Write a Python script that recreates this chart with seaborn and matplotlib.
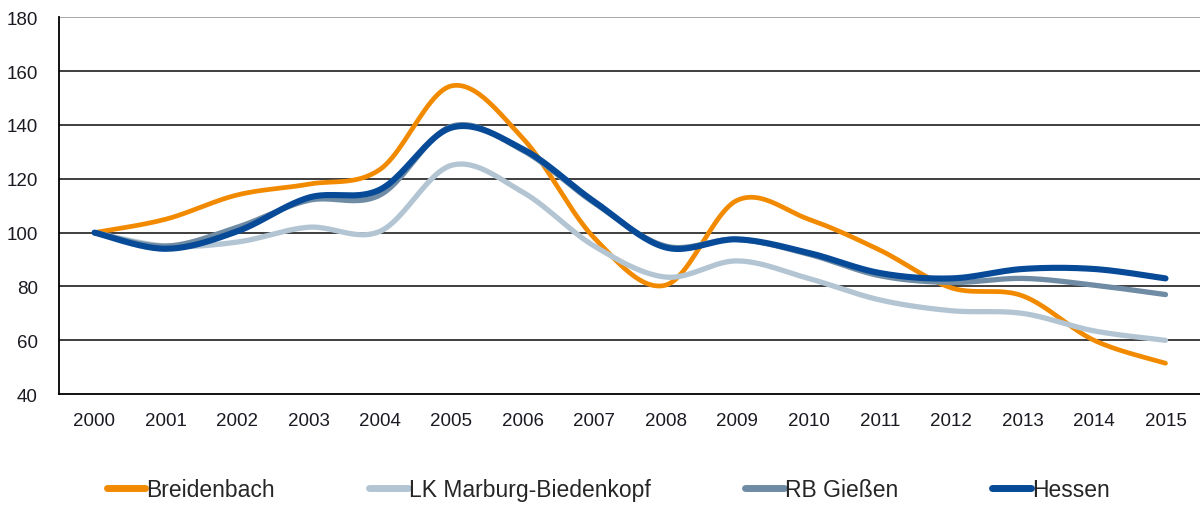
import numpy as np
import pandas as pd
import seaborn as sns
import matplotlib.pyplot as plt
from matplotlib.ticker import FixedLocator

# values (index, 2000 = 100)
years = [str(y) for y in range(2000, 2016)]
breidenbach = [100, 105, 114, 118, 123.5, 154.5, 135, 98, 80.5, 112, 105, 93.5, 79.5, 76.5, 60, 51.5]
lk_marburg = [100, 95, 96.5, 102, 100.5, 125, 115, 95, 83.5, 89.5, 83, 75, 71, 70, 63.5, 60]
rb_giessen = [100, 95, 102, 112, 114, 139.5, 130.5, 111, 95, 97.5, 92, 84, 81.5, 83, 80.5, 77]
hessen = [100, 94, 100.5, 113, 116, 139, 131, 111.5, 94.5, 97.5, 92.5, 85, 83, 86.5, 86.5, 83]

series = {
    'Breidenbach': breidenbach,
    'LK Marburg-Biedenkopf': lk_marburg,
    'RB Gießen': rb_giessen,
    'Hessen': hessen,
}
colors = {
    'Breidenbach': '#f28a00',
    'LK Marburg-Biedenkopf': '#b3c5d3',
    'RB Gießen': '#6f8ca4',
    'Hessen': '#074a97',
}
widths = {
    'Breidenbach': 3.4,
    'LK Marburg-Biedenkopf': 3.8,
    'RB Gießen': 3.8,
    'Hessen': 4.4,
}


def smooth(vals, n=24):
    # Excel-style smoothed line (Catmull-Rom as cubic Bezier) through the points
    x = np.arange(len(vals), dtype=float)
    y = np.asarray(vals, dtype=float)
    xs, ys = [], []
    for i in range(len(y) - 1):
        i0, i3 = max(i - 1, 0), min(i + 2, len(y) - 1)
        p0, p1, p2, p3 = [np.array([x[k], y[k]]) for k in (i0, i, i + 1, i3)]
        c1 = p1 + (p2 - p0) / 6
        c2 = p2 - (p3 - p1) / 6
        t = np.linspace(0, 1, n, endpoint=(i == len(y) - 2))[:, None]
        pts = (1 - t) ** 3 * p1 + 3 * (1 - t) ** 2 * t * c1 + 3 * (1 - t) * t ** 2 * c2 + t ** 3 * p2
        xs.extend(pts[:, 0])
        ys.extend(pts[:, 1])
    return xs, ys


rows = []
for name, vals in series.items():
    xs, ys = smooth(vals)
    rows.append(pd.DataFrame({'x': xs, 'y': ys, 'series': name}))
df = pd.concat(rows, ignore_index=True)

sns.set_style('white')
plt.rcParams['font.family'] = ['Liberation Sans', 'DejaVu Sans']

fig = plt.figure(figsize=(12, 5.06), dpi=100)
ax = fig.add_axes([0.049, 0.219, 0.952, 0.745])

for name in series:
    sub = df[df['series'] == name]
    sns.lineplot(data=sub, x='x', y='y', ax=ax, color=colors[name], lw=widths[name],
                 sort=False, estimator=None, label=name, solid_capstyle='round', zorder=3)

ax.set_xlim(-0.5, len(years) - 0.5)
ax.set_ylim(40, 180)
ax.set_xlabel('')
ax.set_ylabel('')

# horizontal gridlines
yt = list(range(40, 181, 20))
ax.set_yticks(yt)
ax.set_yticklabels([str(v) for v in yt])
for v in yt[1:-1]:
    ax.axhline(v, color='#1e1e1e', lw=1.2, zorder=1)
ax.axhline(180, color='#9a9a9a', lw=1.2, zorder=1)

# category axis: labels in the middle, tick marks between categories
ax.set_xticks(range(len(years)))
ax.set_xticklabels(years)
ax.xaxis.set_minor_locator(FixedLocator(np.arange(-0.5, len(years), 1.0)))
ax.tick_params(axis='x', which='major', length=0, pad=12.5, labelsize=13.5, labelcolor='#1a1a22')
ax.tick_params(axis='x', which='minor', length=5.5, width=1.3, color='black', direction='out')
ax.tick_params(axis='y', which='major', length=5, width=1.1, color='#222222', direction='out',
               pad=10, labelsize=13.5, labelcolor='#1a1a22')

for s in ['top', 'right']:
    ax.spines[s].set_visible(False)
for s in ['left', 'bottom']:
    ax.spines[s].set_color('black')
    ax.spines[s].set_linewidth(1.3)

handles, labels = ax.get_legend_handles_labels()
ax.get_legend().remove()
leg = fig.legend(handles, labels, loc='center', bbox_to_anchor=(0.507, 0.03), ncol=4,
                 frameon=False, fontsize=16.5, handlelength=1.7, handletextpad=0.05,
                 columnspacing=4.1, borderpad=0, borderaxespad=0)
for h in leg.get_lines():
    h.set_linewidth(5)

plt.savefig('out.png', dpi=100)
